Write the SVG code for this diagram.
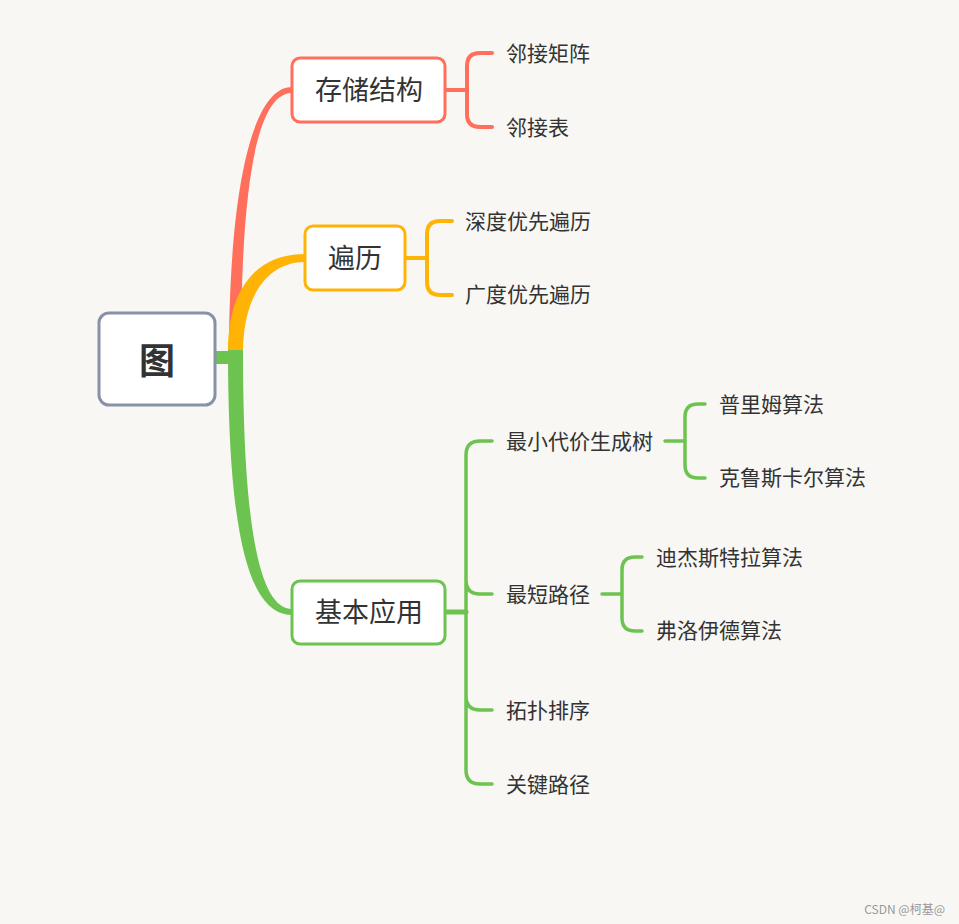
<svg xmlns="http://www.w3.org/2000/svg" width="959" height="924" viewBox="0 0 959 924">
<style>
text{font-family:"Noto Sans CJK SC","Noto Sans",sans-serif;fill:#333;dominant-baseline:central}
.box{fill:#fff;stroke-width:3}
.main{font-size:27px;text-anchor:middle}
.leaf{font-size:21px}
.br{fill:none;stroke-width:3.5;stroke-linecap:round;stroke-linejoin:round}
.r{stroke:#ff6f5b}.o{stroke:#ffb405}.g{stroke:#6cc350}
</style>
<rect width="959" height="924" fill="#f8f7f4"/>
<g id="connectors">
<path d="M229,355 C229,200 250,87 292,87 L292,93 C254,93 241,200 241,355 Z" fill="#ff6f5b"/>
<path d="M228,352 C228,290 255,254 305,254 L305,262 C265,262 243,300 243,352 Z" fill="#ffb405"/>
<path d="M228,350 C228,540 250,615 292,615 L292,609 C262,609 243,540 243,350 Z" fill="#6cc350"/>
<rect x="213" y="351" width="30" height="13" fill="#6cc350"/>
<path class="br r" d="M445,90 H466 M492,53 H480 Q467,53 467,66 V114 Q467,127 480,127 H492" style="stroke-width:4"/>
<path class="br o" d="M405,258 H427 M452,221 H440 Q427,221 427,234 V282 Q427,295 440,295 H452" style="stroke-width:4"/>
<path class="br g" d="M445,612 H466" style="stroke-width:5"/>
<path class="br g" d="M492,441 H480 Q466,441 466,455 V770 Q466,784 480,784 H492 M466,580 Q466,594 480,594 H492 M466,696 Q466,710 480,710 H492"/>
<path class="br g" d="M665,441 H685 M705,404 H698 Q685,404 685,417 V465 Q685,478 698,478 H705"/>
<path class="br g" d="M602,594 H622 M642,557 H635 Q622,557 622,570 V618 Q622,631 635,631 H642"/>
</g>
<g id="root">
<rect x="99" y="313" width="116" height="92" rx="10" class="box" stroke="#8891a8"/>
<text x="157" y="358" style="font-size:36px;font-weight:bold;text-anchor:middle">图</text>
</g>
<g id="storage">
<rect x="292" y="58" width="153" height="64" rx="8" class="box" stroke="#ff6f5b"/>
<text x="369" y="88.5" class="main">存储结构</text>
</g>
<g id="traverse">
<rect x="305" y="226" width="100" height="64" rx="8" class="box" stroke="#ffb405"/>
<text x="355" y="256.5" class="main">遍历</text>
</g>
<g id="app">
<rect x="292" y="581" width="153" height="63" rx="8" class="box" stroke="#6cc350"/>
<text x="369" y="610.5" class="main">基本应用</text>
</g>
<g id="n-matrix"><text x="506" y="51.5" class="leaf">邻接矩阵</text></g>
<g id="n-list"><text x="506" y="125.5" class="leaf">邻接表</text></g>
<g id="n-dfs"><text x="465" y="219.5" class="leaf">深度优先遍历</text></g>
<g id="n-bfs"><text x="465" y="292.5" class="leaf">广度优先遍历</text></g>
<g id="n-mst"><text x="506" y="439.5" class="leaf">最小代价生成树</text></g>
<g id="n-prim"><text x="719" y="402.5" class="leaf">普里姆算法</text></g>
<g id="n-kruskal"><text x="719" y="475.5" class="leaf">克鲁斯卡尔算法</text></g>
<g id="n-sp"><text x="506" y="592.5" class="leaf">最短路径</text></g>
<g id="n-dijkstra"><text x="656" y="555.5" class="leaf">迪杰斯特拉算法</text></g>
<g id="n-floyd"><text x="656" y="628.5" class="leaf">弗洛伊德算法</text></g>
<g id="n-topo"><text x="506" y="708.5" class="leaf">拓扑排序</text></g>
<g id="n-cp"><text x="506" y="782.5" class="leaf">关键路径</text></g>
<text x="945" y="908" style="font-size:12px;fill:#999;text-anchor:end">CSDN @柯基@</text>
</svg>
